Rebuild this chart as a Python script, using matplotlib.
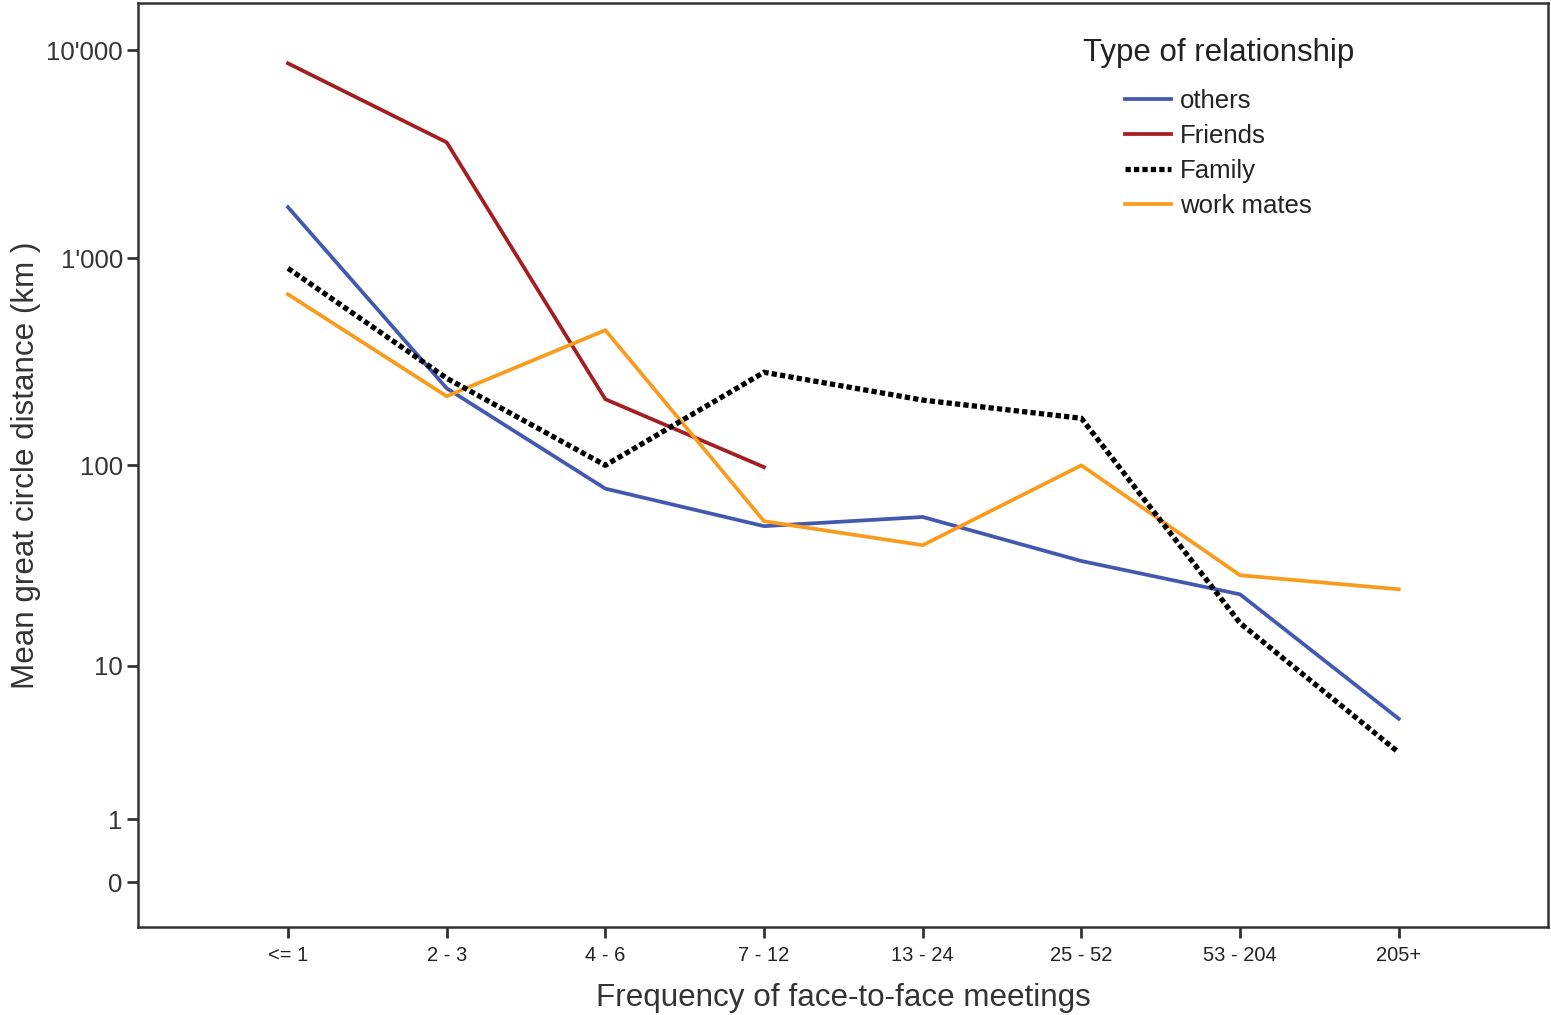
import numpy as np
import matplotlib
matplotlib.use("Agg")
import matplotlib.pyplot as plt

plt.rcParams['font.family'] = ['Liberation Sans', 'DejaVu Sans']

# meeting frequency classes (x axis)
freq_classes = ['<= 1', '2 - 3', '4 - 6', '7 - 12', '13 - 24', '25 - 52', '53 - 204', '205+']

# mean great circle distance in km per relationship type
others = [1760, 236, 77, 50.5, 56, 34, 23.2, 5.1]
friends = [8660, 3610, 209, 98]
family = [894, 264, 100, 282, 207, 169, 16.6, 3.2]
work_mates = [670, 216, 450, 53.4, 40.7, 100, 28.9, 24.6]

ytick_vals = [0, 1, 10, 100, 1000, 10000]
ytick_labels = ['0', '1', '10', '100', "1'000", "10'000"]


def fwd(v):
    return np.log10(np.maximum(np.asarray(v, dtype=float) + 1, 1e-6))


def inv(t):
    return 10 ** np.asarray(t, dtype=float) - 1


fig = plt.figure(figsize=(15.51, 10.15), dpi=100)
ax = fig.add_axes([0.089, 0.0867, 0.909, 0.910])
ax.set_yscale('function', functions=(fwd, inv))

x = np.arange(len(freq_classes))
ax.plot(x, others, color='#4359b0', lw=2.7, label='others', zorder=3)
ax.plot(x[:len(friends)], friends, color='#a41d22', lw=2.7, label='Friends', zorder=3)
ax.plot(x, family, color='black', lw=3.8, linestyle=(0, (1, 0.6)), label='Family', zorder=4)
ax.plot(x, work_mates, color='#f99c1e', lw=2.7, label='work mates', zorder=3)

ax.set_xlim(-0.945, 7.94)
ax.set_ylim(inv(-0.216), inv(4.226))
ax.set_xticks(x)
ax.set_xticklabels(freq_classes, fontsize=14.5, color='#222222')
ax.set_yticks(ytick_vals)
ax.set_yticklabels(ytick_labels, fontsize=18.5, color='#333333')
ax.minorticks_off()
ax.tick_params(axis='both', direction='out', length=8, width=2, color='#333333')
ax.tick_params(axis='x', pad=6)
ax.tick_params(axis='y', pad=3)
for s in ax.spines.values():
    s.set_linewidth(1.8)
    s.set_color('#333333')

ax.set_xlabel('Frequency of face-to-face meetings', fontsize=22.6, color='#333333', labelpad=13)
ax.set_ylabel('Mean great circle distance (km )', fontsize=22.6, color='#333333', labelpad=4)

leg = ax.legend(loc='upper left', bbox_to_anchor=(0.661, 0.976), frameon=False,
                title='Type of relationship', title_fontsize=22.5, fontsize=18.5,
                handlelength=1.8, handletextpad=0.35, labelspacing=0.42, borderpad=0)
leg.get_title().set_color('#222222')
leg._legend_box.sep = 15
for t in leg.get_texts():
    t.set_color('#222222')

fig.savefig('out.png', dpi=100)
